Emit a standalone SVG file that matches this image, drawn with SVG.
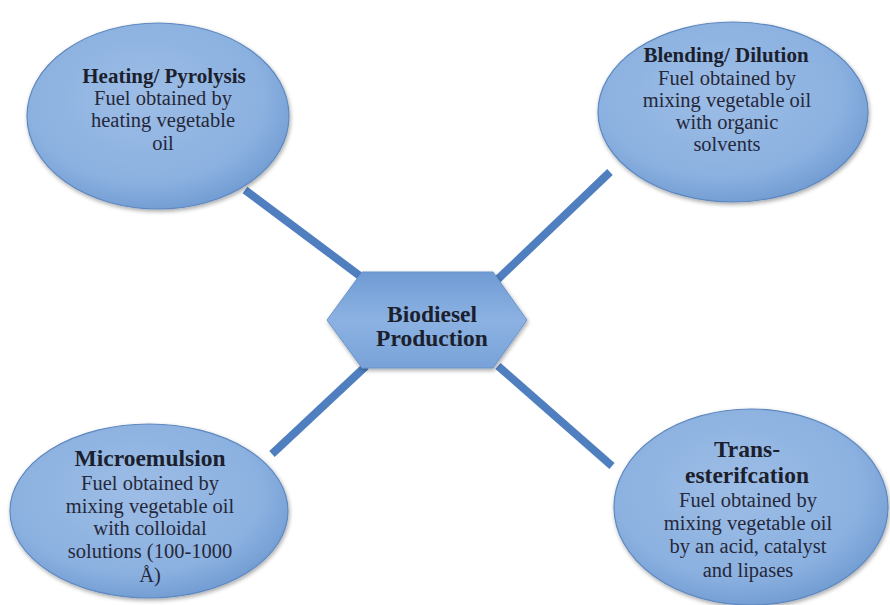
<svg xmlns="http://www.w3.org/2000/svg" width="890" height="605" viewBox="0 0 890 605">
<defs>
<radialGradient id="eg" cx="0.45" cy="0.4" r="0.65">
<stop offset="0" stop-color="#9dbde6"/>
<stop offset="0.7" stop-color="#8bb1e0"/>
<stop offset="1" stop-color="#6d98d0"/>
</radialGradient>
<linearGradient id="hg" x1="0" y1="0" x2="0" y2="1">
<stop offset="0" stop-color="#6f9bd4"/>
<stop offset="0.5" stop-color="#8cb2e2"/>
<stop offset="1" stop-color="#78a2d8"/>
</linearGradient>
<filter id="sh" x="-10%" y="-10%" width="125%" height="125%">
<feGaussianBlur in="SourceAlpha" stdDeviation="2"/>
<feOffset dx="1" dy="2"/>
<feComponentTransfer><feFuncA type="linear" slope="0.35"/></feComponentTransfer>
<feMerge><feMergeNode/><feMergeNode in="SourceGraphic"/></feMerge>
</filter>
</defs>
<style>
.conn{stroke:#4f7fbf;stroke-width:8;fill:none;stroke-linecap:butt}
.node{fill:url(#eg);stroke:#5e88c0;stroke-width:1.2;filter:url(#sh)}
.hex{fill:url(#hg);stroke:#6a94cc;stroke-width:1;filter:url(#sh)}
text{text-anchor:middle;fill:#1c1f2e}
.t{font-weight:bold;font-size:21px}
.b{font-size:20.5px;fill:#26283a}
.T{font-weight:bold;font-size:23.5px}
</style>
<rect width="890" height="605" fill="#ffffff"/>
<g id="connectors">
<line class="conn" x1="245" y1="190" x2="368" y2="282"/>
<line class="conn" x1="610" y1="172" x2="497" y2="280"/>
<line class="conn" x1="366" y1="366" x2="272" y2="454"/>
<line class="conn" x1="498" y1="366" x2="612" y2="466"/>
</g>
<g font-family="'Liberation Serif', 'Times New Roman', 'DejaVu Serif', serif">
<g id="center">
<polygon class="hex" points="327,320 362,272 493,272 527,320 493,368 362,368"/>
<text class="T" x="432" y="322">Biodiesel</text>
<text class="T" x="432" y="346">Production</text>
</g>
<g id="heating">
<ellipse class="node" cx="158" cy="116" rx="131" ry="93"/>
<text class="t" x="164" y="83">Heating/ Pyrolysis</text>
<text class="b" x="163" y="105">Fuel obtained by</text>
<text class="b" x="163" y="127">heating vegetable</text>
<text class="b" x="163" y="150">oil</text>
</g>
<g id="blending">
<ellipse class="node" cx="733" cy="112" rx="135" ry="90"/>
<text class="t" x="726" y="62">Blending/ Dilution</text>
<text class="b" x="727" y="85">Fuel obtained by</text>
<text class="b" x="727" y="107">mixing vegetable oil</text>
<text class="b" x="727" y="129">with organic</text>
<text class="b" x="727" y="151">solvents</text>
</g>
<g id="micro">
<ellipse class="node" cx="149" cy="511" rx="139" ry="87"/>
<text class="T" x="150" y="466">Microemulsion</text>
<text class="b" x="150" y="490">Fuel obtained by</text>
<text class="b" x="150" y="513">mixing vegetable oil</text>
<text class="b" x="150" y="535">with colloidal</text>
<text class="b" x="150" y="558">solutions (100-1000</text>
<text class="b" x="150" y="582">Å)</text>
</g>
<g id="trans">
<ellipse class="node" cx="751" cy="507" rx="137" ry="98"/>
<text class="T" x="747" y="457">Trans-</text>
<text class="T" x="747" y="483">esterifcation</text>
<text class="b" x="748" y="507">Fuel obtained by</text>
<text class="b" x="748" y="530">mixing vegetable oil</text>
<text class="b" x="748" y="553">by an acid, catalyst</text>
<text class="b" x="748" y="577">and lipases</text>
</g>
</g>
</svg>
